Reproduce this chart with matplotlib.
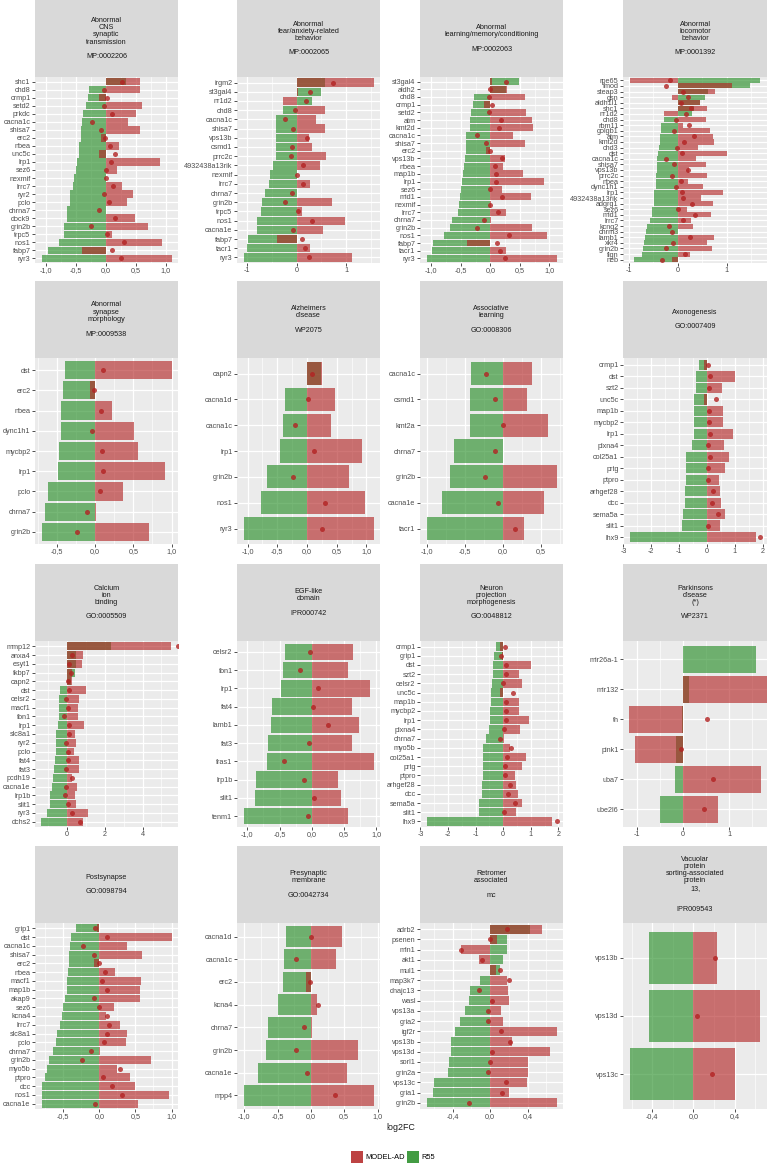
import numpy as np
import matplotlib
matplotlib.use("Agg")
import matplotlib.pyplot as plt
from matplotlib.ticker import MultipleLocator, FuncFormatter
from matplotlib.patches import Patch

plt.rcParams['font.family'] = ['Liberation Sans', 'DejaVu Sans']

RED = '#B22222'
GREEN = '#228B22'

# ---------------------------------------------------------------------------
# data: R55 and MODEL-AD log2FC per gene, plus the point value
cns_genes = ["shc1", "chd8", "crmp1", "setd2", "prkdc", "cacna1c", "shisa7", "erc2",
             "nbea", "unc5c", "lrp1", "sez6", "nexmif", "lrrc7", "ryr2", "pclo",
             "chrna7", "dock9", "grin2b", "trpc5", "nos1", "fabp7", "ryr3"]
cns_r55 = [0.34, -0.27, -0.29, -0.33, -0.38, -0.40, -0.41, -0.41, -0.44, -0.45, -0.47,
           -0.49, -0.52, -0.55, -0.59, -0.59, -0.64, -0.65, -0.69, -0.70, -0.77, -0.96, -1.07]
cns_model = [0.58, 0.57, -0.11, 0.60, 0.51, 0.38, 0.57, -0.08, 0.22, -0.11, 0.90,
             0.19, 0.005, 0.27, 0.46, 0.36, 0.005, 0.49, 0.70, 0.10, 0.94, -0.39, 1.10]
cns_dot = [0.28, -0.03, 0.03, -0.03, 0.10, -0.22, -0.08, -0.01, 0.07, 0.16, 0.09,
           0.0, 0.0, 0.12, -0.03, 0.05, -0.11, 0.15, -0.24, 0.03, 0.30, 0.11, 0.25]

fear_genes = ["irgm2", "st3gal4", "nr1d2", "chd8", "cacna1c", "shisa7", "vps13b", "csmd1",
              "prrc2c", "4932438a13rik", "nexmif", "lrrc7", "chrna7", "grin2b", "trpc5",
              "nos1", "cacna1e", "fabp7", "tacr1", "ryr3"]
fear_r55 = [0.57, 0.50, 0.31, -0.28, -0.41, -0.42, -0.42, -0.42, -0.42, -0.48, -0.54,
            -0.56, -0.64, -0.69, -0.71, -0.79, -0.80, -0.98, -1.00, -1.07]
fear_model = [1.55, 0.02, -0.27, 0.58, 0.39, 0.58, 0.26, 0.31, 0.60, 0.47, 0.005,
              0.28, 0.005, 0.71, 0.10, 0.97, 0.54, -0.40, 0.27, 1.11]
fear_dot = [0.74, 0.27, 0.19, -0.04, -0.23, -0.08, 0.21, -0.10, -0.11, 0.12, 0.0,
            0.13, -0.10, -0.24, 0.03, 0.31, -0.07, 0.11, 0.16, 0.25]

learn_genes = ["st3gal4", "aldh2", "chd8", "crmp1", "setd2", "atm", "kmt2d", "cacna1c",
               "shisa7", "erc2", "vps13b", "nbea", "map1b", "lrp1", "sez6", "mid1",
               "nexmif", "lrrc7", "chrna7", "grin2b", "nos1", "fabp7", "tacr1", "ryr3"]
learn_r55 = [0.48, 0.27, -0.28, -0.29, -0.33, -0.35, -0.35, -0.41, -0.42, -0.42, -0.43,
             -0.44, -0.46, -0.48, -0.50, -0.51, -0.53, -0.55, -0.65, -0.69, -0.79,
             -0.97, -0.99, -1.08]
learn_model = [0.02, 0.29, 0.58, -0.11, 0.60, 0.70, 0.73, 0.38, 0.58, -0.07, 0.24,
               0.22, 0.56, 0.91, 0.20, 0.68, 0.005, 0.27, 0.005, 0.70, 0.96, -0.40,
               0.27, 1.12]
learn_dot = [0.27, 0.0, -0.03, 0.03, -0.03, 0.18, 0.14, -0.22, -0.08, -0.01, 0.20,
             0.08, 0.09, 0.10, 0.0, 0.20, 0.0, 0.13, -0.10, -0.23, 0.31, 0.12, 0.16, 0.25]

loco_genes = ["rpe65", "fmod", "steap3", "gsn", "aldh1l1", "shc1", "nr1d2", "chd8",
              "rbm11", "golgb1", "atm", "kmt2d", "chd3", "dst", "cacna1c", "shisa7",
              "vps13b", "prrc2c", "nbea", "dync1h1", "lrp1", "4932438a13rik", "adgrg1",
              "sez6", "mid1", "lrrc7", "kcng2", "chrm3", "lamb1", "xkr4", "grin2b",
              "fign", "neb"]
loco_r55 = [1.69, 1.47, 0.62, 0.55, 0.45, 0.34, 0.30, -0.28, -0.33, -0.34, -0.35, -0.35,
            -0.37, -0.40, -0.41, -0.42, -0.43, -0.44, -0.44, -0.45, -0.48, -0.49, -0.49,
            -0.52, -0.53, -0.56, -0.62, -0.64, -0.66, -0.68, -0.70, -0.72, -0.88]
loco_model = [-0.98, 1.11, 0.76, -0.12, 0.46, 0.59, -0.27, 0.58, 0.12, 0.67, 0.72, 0.74,
              0.42, 1.00, 0.38, 0.58, 0.23, 0.60, 0.22, 0.51, 0.92, 0.47, 0.73,
              0.20, 0.68, 0.27, 0.31, 0.005, 0.74, 0.59, 0.71, 0.25, -0.12]
loco_dot = [-0.16, -0.23, 0.11, 0.21, 0.06, 0.27, 0.18, -0.03, 0.23, -0.08, 0.34, 0.14,
            -0.01, 0.10, -0.23, -0.08, 0.21, -0.11, 0.07, -0.04, 0.10, 0.12, 0.30,
            0.0, 0.36, 0.12, -0.17, -0.11, 0.25, -0.10, -0.24, 0.16, -0.31]

syn_genes = ["dst", "erc2", "nbea", "dync1h1", "mycbp2", "lrp1", "pclo", "chrna7", "grin2b"]
syn_r55 = [-0.39, -0.42, -0.45, -0.45, -0.47, -0.48, -0.61, -0.65, -0.70]
syn_model = [1.00, -0.07, 0.22, 0.51, 0.56, 0.92, 0.37, 0.01, 0.71]
syn_dot = [0.10, -0.01, 0.08, -0.04, 0.09, 0.10, 0.06, -0.11, -0.24]

alz_genes = ["capn2", "cacna1d", "cacna1c", "lrp1", "grin2b", "nos1", "ryr3"]
alz_r55 = [0.23, -0.37, -0.40, -0.46, -0.68, -0.78, -1.07]
alz_model = [0.25, 0.47, 0.40, 0.92, 0.71, 0.98, 1.12]
alz_dot = [0.08, 0.01, -0.21, 0.11, -0.23, 0.31, 0.26]

assoc_genes = ["cacna1c", "csmd1", "kmt2a", "chrna7", "grin2b", "cacna1e", "tacr1"]
assoc_r55 = [-0.41, -0.43, -0.43, -0.64, -0.69, -0.80, -1.00]
assoc_model = [0.39, 0.32, 0.60, 0.01, 0.71, 0.54, 0.28]
assoc_dot = [-0.22, -0.10, 0.01, -0.10, -0.23, -0.06, 0.16]

axon_genes = ["crmp1", "dst", "szt2", "unc5c", "map1b", "mycbp2", "lrp1", "plxna4",
              "col25a1", "prtg", "ptpro", "arhgef28", "dcc", "sema5a", "slit1", "lhx9"]
axon_r55 = [-0.29, -0.40, -0.40, -0.45, -0.46, -0.47, -0.48, -0.54, -0.75, -0.77,
            -0.77, -0.78, -0.80, -0.87, -0.91, -2.78]
axon_model = [-0.11, 1.00, 0.55, -0.11, 0.56, 0.56, 0.92, 0.60, 0.80, 0.63, 0.42,
              0.47, 0.49, 0.63, 0.47, 1.75]
axon_dot = [0.04, 0.10, 0.07, 0.31, 0.09, 0.09, 0.10, 0.02, 0.12, 0.05, 0.05, 0.23,
            0.18, 0.38, 0.02, 1.92]

calc_genes = ["mmp12", "anxa4", "esyt1", "fkbp7", "capn2", "dst", "celsr2", "macf1",
              "fbn1", "lrp1", "slc8a1", "ryr2", "pclo", "fat4", "fat3", "pcdh19",
              "cacna1e", "lrp1b", "slit1", "ryr3", "dchs2"]
calc_r55 = [2.33, 0.49, 0.49, 0.39, 0.18, -0.39, -0.42, -0.46, -0.46, -0.49, -0.60,
            -0.61, -0.61, -0.67, -0.70, -0.74, -0.81, -0.89, -0.91, -1.09, -1.39]
calc_model = [5.53, 0.86, 0.77, 0.28, 0.23, 0.98, 0.65, 0.56, 0.56, 0.91, 0.39, 0.47,
              0.35, 0.63, 0.63, 0.23, 0.54, 0.40, 0.46, 1.10, 0.84]
calc_dot = [5.86, 0.28, 0.12, 0.21, 0.05, 0.07, -0.04, 0.02, -0.19, 0.09, 0.10, -0.04,
            0.05, 0.02, -0.04, 0.26, -0.07, -0.12, 0.02, 0.25, 0.70]

egf_genes = ["celsr2", "fbn1", "lrp1", "fat4", "lamb1", "fat3", "fras1", "lrp1b",
             "slit1", "tenm1"]
egf_r55 = [-0.41, -0.45, -0.47, -0.62, -0.64, -0.68, -0.69, -0.87, -0.88, -1.06]
egf_model = [0.64, 0.56, 0.91, 0.63, 0.73, 0.62, 0.96, 0.41, 0.46, 0.57]
egf_dot = [-0.02, -0.18, 0.10, 0.02, 0.26, -0.04, -0.43, -0.12, 0.03, -0.06]

neur_genes = ["crmp1", "grip1", "dst", "szt2", "celsr2", "unc5c", "map1b", "mycbp2",
              "lrp1", "plxna4", "chrna7", "myo5b", "col25a1", "prtg", "ptpro",
              "arhgef28", "dcc", "sema5a", "slit1", "lhx9"]
neur_r55 = [-0.28, -0.32, -0.37, -0.38, -0.41, -0.44, -0.46, -0.47, -0.47, -0.53,
            -0.64, -0.73, -0.74, -0.74, -0.74, -0.76, -0.78, -0.86, -0.89, -2.78]
neur_model = [-0.12, -0.03, 1.02, 0.56, 0.67, -0.12, 0.58, 0.58, 0.94, 0.61, 0.01,
              0.25, 0.82, 0.67, 0.44, 0.48, 0.52, 0.67, 0.48, 1.76]
neur_dot = [0.06, -0.07, 0.11, 0.10, -0.01, 0.34, 0.11, 0.11, 0.11, 0.04, -0.11,
            0.29, 0.13, 0.07, 0.07, 0.24, 0.18, 0.41, 0.04, 1.93]

park_genes = ["mir26a-1", "mir132", "th", "pink1", "uba7", "ube2l6"]
park_r55 = [1.59, 0.12, -0.03, -0.15, -0.17, -0.49]
park_model = [np.nan, 1.84, -1.16, -1.03, 1.68, 0.75]
park_dot = [np.nan, np.nan, 0.51, -0.04, 0.64, 0.45]

post_genes = ["grip1", "dst", "cacna1c", "shisa7", "erc2", "nbea", "macf1", "map1b",
              "akap9", "sez6", "kcna4", "lrrc7", "slc8a1", "pclo", "chrna7", "grin2b",
              "myo5b", "ptpro", "dcc", "nos1", "cacna1e"]
post_r55 = [-0.32, -0.39, -0.41, -0.42, -0.42, -0.44, -0.45, -0.45, -0.48, -0.50,
            -0.51, -0.55, -0.58, -0.60, -0.64, -0.69, -0.73, -0.75, -0.79, -0.79, -0.80]
post_model = [-0.03, 1.00, 0.39, 0.59, -0.07, 0.22, 0.58, 0.57, 0.56, 0.20, 0.09,
              0.28, 0.38, 0.37, 0.01, 0.72, 0.24, 0.43, 0.50, 0.97, 0.54]
post_dot = [-0.06, 0.10, -0.22, -0.08, -0.01, 0.08, 0.04, 0.10, -0.07, 0.0, 0.10,
            0.13, 0.11, 0.06, -0.11, -0.24, 0.28, 0.05, 0.17, 0.31, -0.06]

pre_genes = ["cacna1d", "cacna1c", "erc2", "kcna4", "chrna7", "grin2b", "cacna1e", "mpp4"]
pre_r55 = [-0.37, -0.41, -0.42, -0.50, -0.64, -0.68, -0.79, -1.01]
pre_model = [0.46, 0.38, -0.07, 0.085, 0.01, 0.70, 0.54, 0.94]
pre_dot = [0.0, -0.22, -0.01, 0.10, -0.11, -0.23, -0.06, 0.36]

retro_genes = ["adrb2", "psenen", "mln1", "akt1", "mul1", "map3k7", "dnajc13", "wasl",
               "vps13a", "gria2", "igf2r", "vps13b", "vps13d", "sorl1", "grin2a",
               "vps13c", "gria1", "grin2b"]
retro_r55 = [0.43, 0.18, 0.18, 0.14, 0.11, -0.11, -0.21, -0.23, -0.27, -0.32, -0.37,
             -0.42, -0.42, -0.44, -0.45, -0.60, -0.61, -0.68]
retro_model = [0.55, 0.07, -0.31, -0.12, 0.06, 0.18, 0.19, 0.20, 0.12, 0.14, 0.71,
               0.23, 0.64, 0.41, 0.41, 0.39, 0.20, 0.71]
retro_dot = [0.18, 0.0, -0.31, -0.09, 0.11, 0.20, -0.12, 0.02, -0.02, -0.02, 0.12,
             0.21, 0.02, 0.0, -0.02, 0.17, 0.13, -0.23]

vps_genes = ["vps13b", "vps13d", "vps13c"]
vps_r55 = [-0.43, -0.43, -0.62]
vps_model = [0.23, 0.65, 0.40]
vps_dot = [0.21, 0.03, 0.18]

titles = [
    "Abnormal\nCNS\nsynaptic\ntransmission\n\nMP:0002206",
    "Abnormal\nfear/anxiety-related\nbehavior\n\nMP:0002065",
    "Abnormal\nlearning/memory/conditioning\n\nMP:0002063",
    "Abnormal\nlocomotor\nbehavior\n\nMP:0001392",
    "Abnormal\nsynapse\nmorphology\n\nMP:0009538",
    "Alzheimers\ndisease\n\nWP2075",
    "Associative\nlearning\n\nGO:0008306",
    "Axonogenesis\n\nGO:0007409",
    "Calcium\nion\nbinding\n\nGO:0005509",
    "EGF-like\ndomain\n\nIPR000742",
    "Neuron\nprojection\nmorphogenesis\n\nGO:0048812",
    "Parkinsons\ndisease\n(*)\n\nWP2371",
    "Postsynapse\n\nGO:0098794",
    "Presynaptic\nmembrane\n\nGO:0042734",
    "Retromer\nassociated\n\nmc",
    "Vacuolar\nprotein\nsorting-associated\nprotein\n13,\n\n\nIPR009543",
]

# (genes, r55, model, dot, tick step, fixed x limits or None)
panels = [
    (cns_genes, cns_r55, cns_model, cns_dot, 0.5, None),
    (fear_genes, fear_r55, fear_model, fear_dot, 1, None),
    (learn_genes, learn_r55, learn_model, learn_dot, 0.5, None),
    (loco_genes, loco_r55, loco_model, loco_dot, 1, None),
    (syn_genes, syn_r55, syn_model, syn_dot, 0.5, None),
    (alz_genes, alz_r55, alz_model, alz_dot, 0.5, None),
    (assoc_genes, assoc_r55, assoc_model, assoc_dot, 0.5, None),
    (axon_genes, axon_r55, axon_model, axon_dot, 1, None),
    (calc_genes, calc_r55, calc_model, calc_dot, 2, (-1.71, 5.88)),
    (egf_genes, egf_r55, egf_model, egf_dot, 0.5, None),
    (neur_genes, neur_r55, neur_model, neur_dot, 1, None),
    (park_genes, park_r55, park_model, park_dot, 1, (-1.30, 1.82)),
    (post_genes, post_r55, post_model, post_dot, 0.5, None),
    (pre_genes, pre_r55, pre_model, pre_dot, 0.5, None),
    (retro_genes, retro_r55, retro_model, retro_dot, 0.4, None),
    (vps_genes, vps_r55, vps_model, vps_dot, 0.4, None),
]


def tick_fmt(step):
    def f(v, pos):
        if step >= 1:
            return "%d" % round(v)
        s = "%.1f" % v
        if s == "-0.0":
            s = "0.0"
        return s.replace(".", ",")
    return FuncFormatter(f)


def draw(ax, sax, title, genes, r55, model, dot, step, xlim):
    n = len(genes)
    y = np.arange(n)
    r55 = np.array(r55, float)
    model = np.array(model, float)
    dot = np.array(dot, float)

    ax.set_facecolor('#EBEBEB')
    ax.barh(y, np.nan_to_num(r55), height=0.9, color=GREEN, alpha=0.62, lw=0, zorder=2)
    ax.barh(y, np.nan_to_num(model), height=0.9, color=RED, alpha=0.62, lw=0, zorder=3)
    ax.scatter(dot, y, s=13, color=RED, alpha=0.8, lw=0, zorder=4)

    if xlim is None:
        vals = np.concatenate([r55, model, dot, [0.0]])
        lo, hi = np.nanmin(vals), np.nanmax(vals)
        pad = 0.05 * (hi - lo)
        xlim = (lo - pad, hi + pad)
    ax.set_xlim(*xlim)
    ax.set_ylim(n - 1 + 0.6, -0.6)

    ax.xaxis.set_major_locator(MultipleLocator(step))
    ax.xaxis.set_minor_locator(MultipleLocator(step / 2))
    ax.xaxis.set_major_formatter(tick_fmt(step))
    ax.set_yticks(y)
    ax.set_yticklabels(genes)
    ax.set_axisbelow(True)
    ax.grid(which='major', color='white', lw=0.9)
    ax.grid(which='minor', axis='x', color='white', lw=0.45)
    ax.tick_params(which='major', length=2, width=0.6, color='#333333',
                   labelsize=5.2, labelcolor='#4D4D4D', pad=1.2)
    ax.tick_params(which='minor', length=0)
    for sp in ax.spines.values():
        sp.set_visible(False)

    sax.set_facecolor('#D9D9D9')
    sax.set_xticks([])
    sax.set_yticks([])
    for sp in sax.spines.values():
        sp.set_visible(False)
    sax.text(0.5, 0.5, title, ha='center', va='center', fontsize=5.2,
             color='#1A1A1A', linespacing=1.05, transform=sax.transAxes)


W, H = 767, 1166
fig = plt.figure(figsize=(W / 100, H / 100), dpi=100)

col_x = [35, 237, 420, 623]
row_top = [77, 358, 641, 923]
pw, ph, sh = 143, 186, 77

for i, (p, title) in enumerate(zip(panels, titles)):
    r, c = divmod(i, 4)
    x0 = col_x[c]
    w = pw + (1 if c == 3 else 0)
    top = row_top[r]
    ax = fig.add_axes([x0 / W, 1 - (top + ph) / H, w / W, ph / H])
    sax = fig.add_axes([x0 / W, 1 - top / H, w / W, sh / H])
    draw(ax, sax, title, *p)

fig.text(401 / W, 1 - 1128 / H, "log2FC", ha='center', va='center', fontsize=6.4,
         color='#1A1A1A')

handles = [Patch(facecolor=RED, alpha=0.85, lw=0), Patch(facecolor=GREEN, alpha=0.85, lw=0)]
fig.legend(handles, ["MODEL-AD", "R55"], loc='center', bbox_to_anchor=(393 / W, 1 - 1157 / H),
           ncol=2, frameon=False, fontsize=5.4, handlelength=1.7, handleheight=2.2,
           handletextpad=0.3, columnspacing=0.2, borderpad=0)

fig.savefig("out.png", dpi=100)
